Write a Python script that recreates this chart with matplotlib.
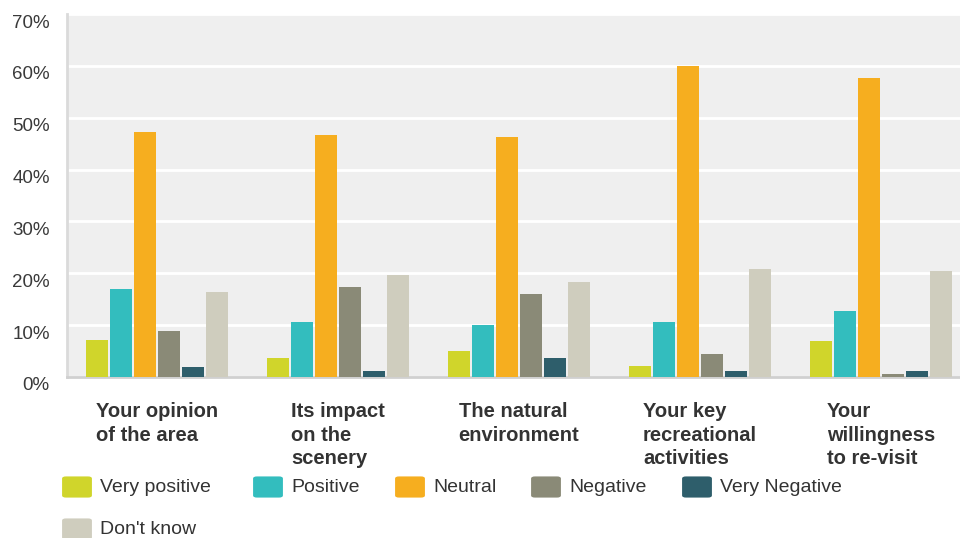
import numpy as np
import matplotlib
matplotlib.use("Agg")
import matplotlib.pyplot as plt
from matplotlib.patches import FancyBboxPatch
from matplotlib.transforms import ScaledTranslation

plt.rcParams['font.family'] = ['Liberation Sans', 'DejaVu Sans']

# Dados (percentagens)
categorias = ["Your opinion\nof the area", "Its impact\non the\nscenery",
              "The natural\nenvironment", "Your key\nrecreational\nactivities",
              "Your\nwillingness\nto re-visit"]
series = ["Very positive", "Positive", "Neutral", "Negative", "Very Negative", "Don't know"]
muito_positivo = [7.2, 3.6, 5.0, 2.2, 6.9]
positivo = [17.0, 10.7, 10.0, 10.7, 12.8]
neutro = [47.3, 46.6, 46.2, 59.9, 57.6]
negativo = [8.9, 17.4, 16.0, 4.4, 0.5]
muito_negativo = [1.9, 1.2, 3.6, 1.2, 1.2]
nao_sabe = [16.3, 19.7, 18.4, 20.9, 20.5]
cores = ["#d0d52b", "#33bdbe", "#f6ae1f", "#8a8a77", "#2e5e6b", "#cfcdbe"]

valores = [muito_positivo, positivo, neutro, negativo, muito_negativo, nao_sabe]

fig = plt.figure(figsize=(9.6, 5.38), dpi=100)
ax = fig.add_axes([66.5 / 960, 1 - 377 / 538, 905 / 960, (377 - 14) / 538])
ax.set_facecolor("#efefef")

x = np.arange(len(categorias))
passo = 0.1326
largura = 0.119
for i, (nome, vals) in enumerate(zip(series, valores)):
    ax.bar(x + (i - 2.5) * passo, vals, width=largura, color=cores[i], label=nome,
           linewidth=0, zorder=3)

ax.set_xlim(-0.5, len(categorias) - 0.5)
ax.set_ylim(0, 70)
ax.set_yticks(range(0, 71, 10))
ax.set_yticklabels([f"{v}%" for v in range(0, 71, 10)])
ax.yaxis.grid(True, color="white", linewidth=2, zorder=1)
ax.set_axisbelow(True)
ax.tick_params(axis="y", length=0, pad=12, labelsize=13.5, labelcolor="#3a3a3a")
ax.set_xticks([])
for lbl in ax.get_yticklabels():
    lbl.set_transform(lbl.get_transform() + ScaledTranslation(0, -0.07, fig.dpi_scale_trans))

for s in ["top", "right"]:
    ax.spines[s].set_visible(False)
ax.spines["left"].set_color("#dadada")
ax.spines["left"].set_linewidth(2)
ax.spines["bottom"].set_color("#d0d0d0")
ax.spines["bottom"].set_linewidth(2)

# Rótulos das categorias
trans = ax.get_xaxis_transform()
for xi, cat in zip(x, categorias):
    ax.text(xi, -0.07, cat, transform=trans, ha="center", va="top",
            multialignment="left", fontsize=14.5, fontweight="bold",
            color="#333333", linespacing=1.3)

# Legenda manual
leg_x = [62, 253, 395, 531, 682, 62]
leg_y = [487, 487, 487, 487, 487, 529]
for i, nome in enumerate(series):
    px, py = leg_x[i], leg_y[i]
    caixa = FancyBboxPatch(((px + 2) / 960, 1 - (py + 9.5) / 538), 26 / 960, 19 / 538,
                           boxstyle="round,pad=0.002,rounding_size=0.004",
                           transform=fig.transFigure, facecolor=cores[i],
                           edgecolor="none")
    fig.patches.append(caixa)
    fig.text((px + 38) / 960, 1 - py / 538, nome, ha="left", va="center",
             fontsize=14, color="#333333")

fig.savefig("out.png", dpi=100)
